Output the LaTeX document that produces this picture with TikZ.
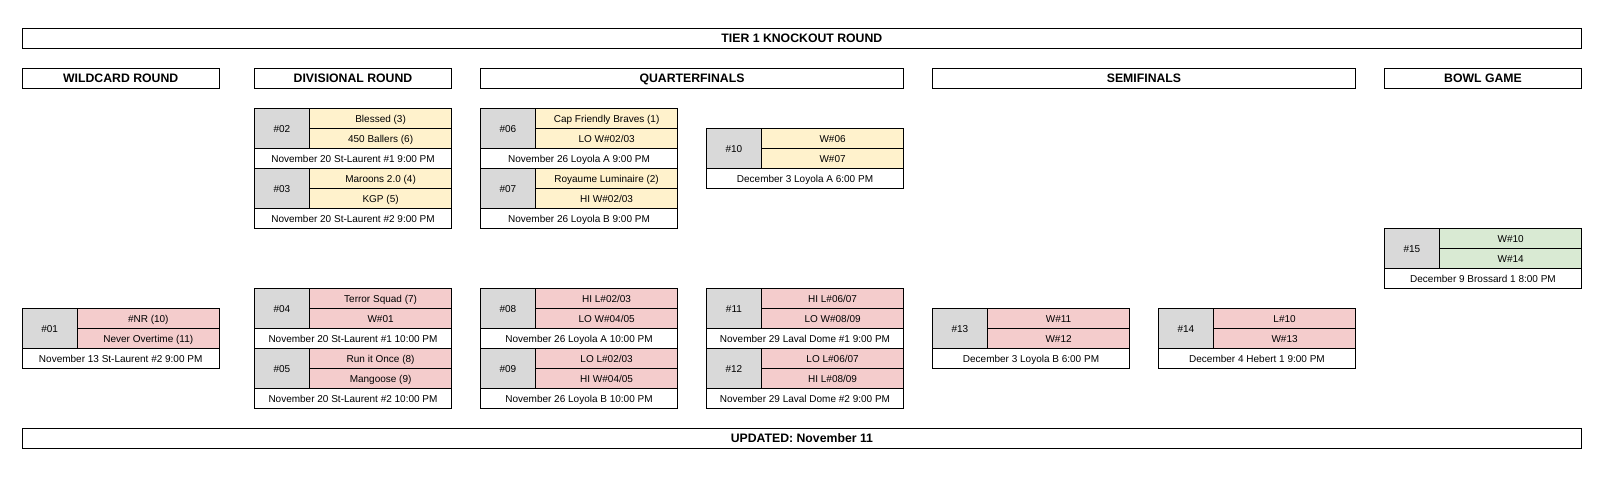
\documentclass[tikz,border=0pt]{standalone}
\usepackage{fontspec}
\setmainfont{Liberation Sans}
\definecolor{cgray}{HTML}{D9D9D9}
\definecolor{cyel}{HTML}{FFF2CC}
\definecolor{cred}{HTML}{F4CCCC}
\definecolor{cgreen}{HTML}{D9EAD3}
\tikzset{
  base/.style={draw=black, line width=0.75pt, anchor=north west, inner sep=0pt, outer sep=0pt, align=center},
  small/.style={font=\fontsize{7.5}{9}\selectfont, text height=6.7pt, text depth=0pt},
  numcell/.style={base, small, fill=cgray, minimum width=41.4pt, minimum height=30pt},
  teamcell/.style={base, small, minimum width=106.65pt, minimum height=15pt},
  datecell/.style={base, small, fill=white, minimum width=148.05pt, minimum height=15pt},
  hdr/.style={base, fill=white, minimum height=15pt, font=\fontsize{9.2}{11}\selectfont\bfseries, text height=6.6pt, text depth=0pt},
}
\newcommand{\gamebox}[8]{%
  \node[numcell] (#1n) at (#2,#3) {#4};
  \node[teamcell, fill=#8] (#1a) at (#1n.north east) {#5};
  \node[teamcell, fill=#8] (#1b) at (#1a.south west) {#6};
  \node[datecell] (#1d) at (#1n.south west) {#7};
}
\begin{document}
\begin{tikzpicture}[x=0.75pt, y=-0.75pt]
\useasboundingbox (0,0) rectangle (1612,494);
% headers
\node[hdr, minimum width=1169.8pt] (title) at (22,28.3) {TIER 1 KNOCKOUT ROUND};
\node[hdr, minimum width=148.05pt] (hwild) at (22,68.3) {WILDCARD ROUND};
\node[hdr, minimum width=148.05pt] (hdiv) at (254.3,68.3) {DIVISIONAL ROUND};
\node[hdr, minimum width=317.55pt] (hqf) at (480.3,68.3) {QUARTERFINALS};
\node[hdr, minimum width=317.55pt] (hsemi) at (932.3,68.3) {SEMIFINALS};
\node[hdr, minimum width=148.05pt] (hbowl) at (1384.3,68.3) {BOWL GAME};
\node[hdr, minimum width=1169.8pt] (upd) at (22,428.3) {UPDATED: November 11};
% games
\gamebox{g01}{22}{308.3}{\#01}{\#NR (10)}{Never Overtime (11)}{November 13 St-Laurent \#2 9:00 PM}{cred}
\gamebox{g02}{254.3}{108.3}{\#02}{Blessed (3)}{450 Ballers (6)}{November 20 St-Laurent \#1 9:00 PM}{cyel}
\gamebox{g03}{254.3}{168.3}{\#03}{Maroons 2.0 (4)}{KGP (5)}{November 20 St-Laurent \#2 9:00 PM}{cyel}
\gamebox{g04}{254.3}{288.3}{\#04}{Terror Squad (7)}{W\#01}{November 20 St-Laurent \#1 10:00 PM}{cred}
\gamebox{g05}{254.3}{348.3}{\#05}{Run it Once (8)}{Mangoose (9)}{November 20 St-Laurent \#2 10:00 PM}{cred}
\gamebox{g06}{480.3}{108.3}{\#06}{Cap Friendly Braves (1)}{LO W\#02/03}{November 26 Loyola A 9:00 PM}{cyel}
\gamebox{g07}{480.3}{168.3}{\#07}{Royaume Luminaire (2)}{HI W\#02/03}{November 26 Loyola B 9:00 PM}{cyel}
\gamebox{g08}{480.3}{288.3}{\#08}{HI L\#02/03}{LO W\#04/05}{November 26 Loyola A 10:00 PM}{cred}
\gamebox{g09}{480.3}{348.3}{\#09}{LO L\#02/03}{HI W\#04/05}{November 26 Loyola B 10:00 PM}{cred}
\gamebox{g10}{706.3}{128.3}{\#10}{W\#06}{W\#07}{December 3 Loyola A 6:00 PM}{cyel}
\gamebox{g11}{706.3}{288.3}{\#11}{HI L\#06/07}{LO W\#08/09}{November 29 Laval Dome \#1 9:00 PM}{cred}
\gamebox{g12}{706.3}{348.3}{\#12}{LO L\#06/07}{HI L\#08/09}{November 29 Laval Dome \#2 9:00 PM}{cred}
\gamebox{g13}{932.3}{308.3}{\#13}{W\#11}{W\#12}{December 3 Loyola B 6:00 PM}{cred}
\gamebox{g14}{1158.3}{308.3}{\#14}{L\#10}{W\#13}{December 4 Hebert 1 9:00 PM}{cred}
\gamebox{g15}{1384.3}{228.3}{\#15}{W\#10}{W\#14}{December 9 Brossard 1 8:00 PM}{cgreen}
\end{tikzpicture}
\end{document}
